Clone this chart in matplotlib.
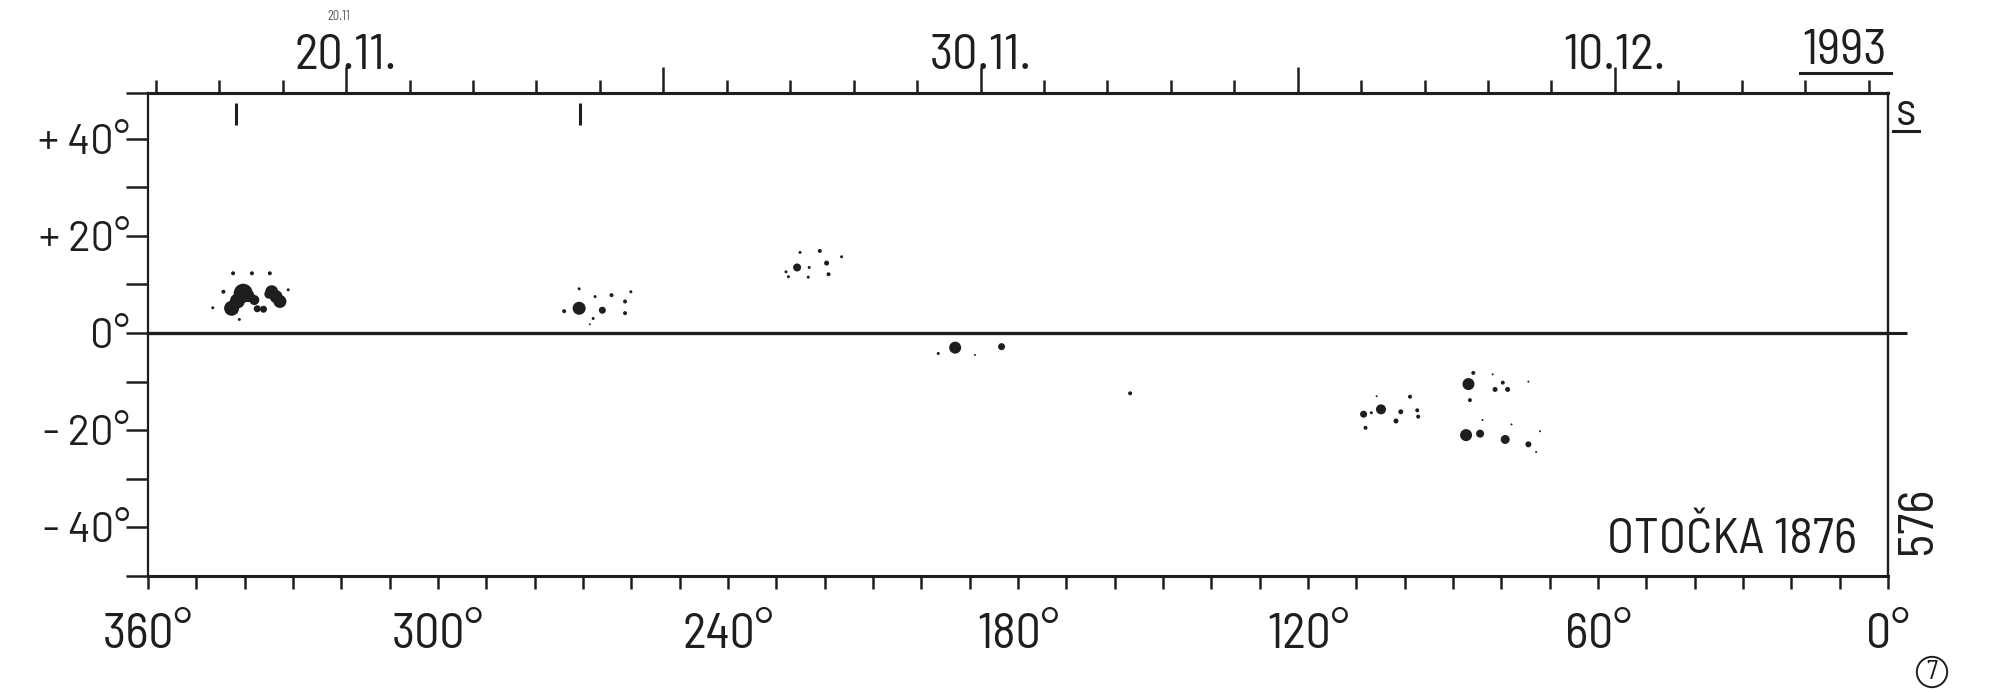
import numpy as np
import matplotlib.pyplot as plt
from matplotlib.lines import Line2D

plt.rcParams['font.family'] = ['Barlow Semi Condensed', 'DejaVu Sans']

## DATA
# sunspot umbrae: carrington longitude, latitude, size (px diameter on the sheet)
spot_lon = [342.7, 341.5, 340.3, 339.2, 338.0, 336.1, 337.4, 334.4, 333.5, 332.7, 335.0,
            344.4, 342.4, 338.5, 334.8, 331.0, 346.6, 341.1,
            270.8, 273.9, 270.8, 267.5, 266.0, 264.1, 261.3, 260.1, 261.3, 267.9, 268.6,
            225.7, 223.2, 219.6, 219.2, 223.4, 225.1, 221.0, 216.5, 228.0, 227.5,
            193.0, 196.5, 188.9, 183.4,
            156.8,
            104.9, 108.5, 106.9, 100.8, 101.8, 108.1, 98.9, 97.4, 97.2, 105.8,
            86.8, 85.8, 86.5, 81.3, 79.7, 78.7, 81.8, 74.4,
            87.3, 84.4, 79.2, 74.4, 72.0, 72.8, 77.9, 83.9]
spot_lat = [5.1, 6.6, 8.2, 7.6, 6.8, 4.9, 5.0, 8.5, 7.5, 6.5, 8.0,
            8.5, 12.3, 12.3, 12.3, 8.9, 5.2, 2.8,
            5.1, 4.5, 9.1, 7.5, 4.7, 7.8, 6.5, 8.5, 4.1, 3.0, 1.8,
            13.5, 13.5, 14.4, 12.1, 11.5, 16.6, 16.9, 15.7, 12.6, 11.6,
            -3.0, -4.2, -4.5, -2.8,
            -12.4,
            -15.7, -16.7, -16.4, -16.2, -18.1, -19.5, -13.1, -15.9, -17.2, -13.0,
            -10.5, -8.2, -13.8, -11.6, -10.2, -11.6, -8.5, -10.0,
            -21.0, -20.7, -21.9, -22.9, -20.2, -24.5, -18.8, -17.9]
spot_size = [15, 15, 19, 12, 10, 7, 7, 13, 13, 13, 9,
             4, 4, 4, 4, 3, 3, 3,
             13, 4, 3, 3, 7, 4, 4, 3, 4, 3, 2,
             8, 3, 5, 4, 3, 3, 4, 3, 3, 3,
             12, 3, 2, 7,
             4,
             10, 7, 3, 5, 5, 4, 4, 4, 4, 2,
             12, 4, 4, 5, 4, 5, 2, 2,
             12, 8, 9, 6, 2, 2, 2, 2]

# central meridian marks below the top border
cm_lon = [341.8, 270.6]

# rotation time scale on top (day of Nov. 1993, Dec. = 30 + day)
lon_ref = 319.0      # longitude at 20.11.
deg_day = 13.125     # deg per day
day_major = [20, 25, 30, 35, 40]
day_major_lab = ['20.11.', '', '30.11.', '', '10.12.']
day_minor = list(range(17, 45))

lat_ticks = [-40, -20, 0, 20, 40]
lat_labels = ['- 40°', '- 20°', '0°', '+ 20°', '+ 40°']
lat_minor = [-50, -30, -10, 10, 30, 49.5]
lon_ticks = [360, 300, 240, 180, 120, 60, 0]
lon_minor = list(range(0, 361, 10))

ink = '#1e1e1e'

fig = plt.figure(figsize=(20, 6.92), dpi=100)
ax = fig.add_axes([0.074, 0.1676, 0.870, 0.6987])
ax.set_xlim(360, 0)
ax.set_ylim(-50, 49.5)

for s in ax.spines.values():
    s.set_color(ink)
    s.set_linewidth(1.6)
ax.spines['top'].set_linewidth(2.2)
ax.spines['bottom'].set_linewidth(2.2)

ax.axhline(0, color=ink, lw=2.4)
ax.vlines(cm_lon, 42.8, 47.4, color=ink, lw=2.2)

d = np.array(spot_size, dtype=float) * 0.72
ax.scatter(spot_lon, spot_lat, s=d**2, color=ink, edgecolors='none', zorder=3)

# left latitude axis
ax.set_yticks(lat_ticks)
ax.set_yticklabels(lat_labels, family=['Barlow', 'DejaVu Sans'])
ax.set_yticks(lat_minor, minor=True)
ax.tick_params(axis='y', which='both', direction='out', length=16, width=1.8,
               color=ink, labelsize=30, labelcolor=ink, pad=-3)

# bottom longitude axis
ax.set_xticks(lon_ticks)
ax.set_xticklabels([f'{t}°' for t in lon_ticks])
ax.set_xticks(lon_minor, minor=True)
ax.tick_params(axis='x', which='both', direction='out', length=9.5, width=1.8,
               color=ink, labelsize=36, labelcolor=ink, pad=17)

# top date axis
top = ax.secondary_xaxis('top', functions=(lambda l: 20 + (lon_ref - l) / deg_day,
                                           lambda t: lon_ref - (t - 20) * deg_day))
top.set_xticks(day_major)
top.set_xticklabels(day_major_lab)
top.set_xticks(day_minor, minor=True)
top.tick_params(which='major', direction='out', length=19, width=1.8, color=ink,
                labelsize=36, labelcolor=ink, pad=-9)
top.tick_params(which='minor', direction='out', length=9.5, width=1.8, color=ink)
top.spines['top'].set_linewidth(2.2)
top.spines['top'].set_color(ink)

# equator continues past the right border
right = ax.secondary_yaxis('right')
right.set_yticks([0])
right.set_yticklabels([''])
right.tick_params(direction='out', length=14, width=2.2, color=ink)
right.spines['right'].set_linewidth(1.6)
right.spines['right'].set_color(ink)

ax.text(0.982, 0.075, 'OTOČKA 1876', transform=ax.transAxes, ha='right',
        va='center', fontsize=36, color=ink)

fig.text(1845 / 2000, 1 - 51 / 692, '1993', ha='center', va='center',
         fontsize=36, color=ink)
fig.add_artist(Line2D([1800 / 2000, 1891 / 2000], [1 - 73 / 692, 1 - 73 / 692],
                      transform=fig.transFigure, color=ink, lw=2.2))
fig.text(1906 / 2000, 1 - 113 / 692, 's', ha='center', va='center',
         fontsize=34, color=ink)
fig.add_artist(Line2D([1893 / 2000, 1919 / 2000], [1 - 131 / 692, 1 - 131 / 692],
                      transform=fig.transFigure, color=ink, lw=2.2))
fig.text(1918 / 2000, 1 - 520 / 692, '576', ha='center', va='center',
         rotation=90, fontsize=36, color=ink)
fig.text(1932 / 2000, 1 - 672 / 692, '7', ha='center', va='center', fontsize=19,
         color=ink, bbox=dict(boxstyle='circle,pad=0.12', fc='none', ec=ink, lw=1.4))
fig.text(339 / 2000, 1 - 17 / 692, '20.11', ha='center', va='center', fontsize=9,
         color='#555555')

fig.savefig('out.png', dpi=100, facecolor='white')
